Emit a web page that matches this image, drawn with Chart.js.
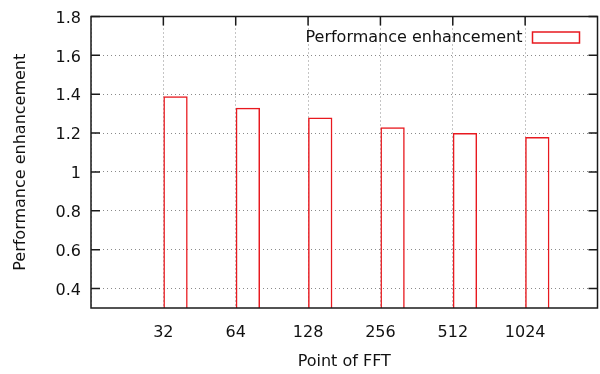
<!DOCTYPE html>
<html lang="en">
<head>
    <meta charset="UTF-8">
    <title>Performance enhancement</title>
    <script src="https://cdn.jsdelivr.net/npm/chart.js"></script>
    <style>
        html, body { margin: 0; padding: 0; background: #fff; }
        #chart-container { width: 600px; height: 374px; }
    </style>
</head>
<body>
<div id="chart-container">
    <canvas id="barChart" width="600" height="374"></canvas>
</div>

<script>
    // data
    const fftPoints = ['32', '64', '128', '256', '512', '1024'];
    const enhancement = [1.39, 1.33, 1.28, 1.23, 1.20, 1.18];
    const yTicks = [0.4, 0.6, 0.8, 1.0, 1.2, 1.4, 1.6, 1.8];

    // empty slots at both ends so the axis runs one step past first/last point
    const labels = [''].concat(fftPoints, ['']);
    const values = [null].concat(enhancement, [null]);
    const spacer = labels.map(() => null);

    const FONT = { family: 'DejaVu Sans', size: 16 };
    const RED = '#e8191f';
    const CLEAR = 'rgba(0,0,0,0)';

    // frame, inward tics and key drawn like gnuplot
    const gnuplotFrame = {
        id: 'gnuplotFrame',
        afterDraw(chart) {
            const ctx = chart.ctx;
            const a = chart.chartArea;
            const xs = chart.scales.x;
            const ys = chart.scales.y;
            ctx.save();
            ctx.strokeStyle = '#1a1a1a';
            ctx.lineWidth = 1.5;
            ctx.strokeRect(a.left, a.top, a.right - a.left, a.bottom - a.top);
            ctx.beginPath();
            ys.ticks.forEach((t, i) => {
                const y = ys.getPixelForTick(i);
                ctx.moveTo(a.left, y); ctx.lineTo(a.left + 9, y);
                ctx.moveTo(a.right, y); ctx.lineTo(a.right - 9, y);
            });
            xs.ticks.forEach((t, i) => {
                if (!labels[i]) return;
                const x = xs.getPixelForTick(i);
                ctx.moveTo(x, a.top); ctx.lineTo(x, a.top + 9);
            });
            ctx.stroke();

            // key
            const ds = chart.data.datasets[1];
            ctx.font = FONT.size + 'px ' + FONT.family;
            ctx.fillStyle = '#111';
            ctx.textAlign = 'right';
            ctx.textBaseline = 'middle';
            ctx.fillText(ds.label, a.right - 75, a.top + 21);
            ctx.strokeStyle = ds.borderColor;
            ctx.lineWidth = 1.5;
            ctx.strokeRect(a.right - 65, a.top + 15.5, 47, 11);
            ctx.restore();
        }
    };

    document.addEventListener('DOMContentLoaded', function() {
        const ctx = document.getElementById('barChart').getContext('2d');
        new Chart(ctx, {
            type: 'bar',
            data: {
                labels: labels,
                datasets: [{
                    label: '',
                    data: spacer
                }, {
                    label: 'Performance enhancement',
                    data: values,
                    backgroundColor: CLEAR,
                    borderColor: RED,
                    borderWidth: 1.5,
                    borderSkipped: 'start'
                }]
            },
            plugins: [gnuplotFrame],
            options: {
                responsive: false,
                animation: false,
                datasets: {
                    bar: {
                        categoryPercentage: 0.672,
                        barPercentage: 1.0
                    }
                },
                layout: {
                    padding: { top: 16.5, right: 2.5, left: 0, bottom: 0 }
                },
                plugins: {
                    legend: { display: false },
                    tooltip: { enabled: false }
                },
                scales: {
                    x: {
                        offset: false,
                        grid: {
                            offset: false,
                            color: '#8a8a8a',
                            lineWidth: 1,
                            drawTicks: true,
                            tickLength: 15,
                            tickColor: CLEAR
                        },
                        border: { display: false, dash: [1, 3] },
                        ticks: {
                            color: '#111',
                            font: FONT,
                            padding: 0,
                            maxRotation: 0,
                            autoSkip: false
                        },
                        title: {
                            display: true,
                            text: 'Point of FFT',
                            color: '#111',
                            font: FONT,
                            padding: { top: 3, bottom: 3 }
                        },
                        afterFit(scale) { scale.height = 66; }
                    },
                    y: {
                        min: 0.3,
                        max: 1.8,
                        afterBuildTicks(scale) {
                            scale.ticks = yTicks.map(v => ({ value: v }));
                        },
                        grid: {
                            color: '#8a8a8a',
                            lineWidth: 1,
                            drawTicks: true,
                            tickLength: 10,
                            tickColor: CLEAR
                        },
                        border: { display: false, dash: [1, 3] },
                        ticks: {
                            color: '#111',
                            font: FONT,
                            padding: 0,
                            labelOffset: 2,
                            callback: v => String(Math.round(v * 10) / 10)
                        },
                        title: {
                            display: true,
                            text: 'Performance enhancement',
                            color: '#111',
                            font: FONT,
                            padding: { top: 11.5, bottom: 0 }
                        },
                        afterFit(scale) { scale.width = 91; }
                    }
                }
            }
        });
    });
</script>

</body>
</html>
